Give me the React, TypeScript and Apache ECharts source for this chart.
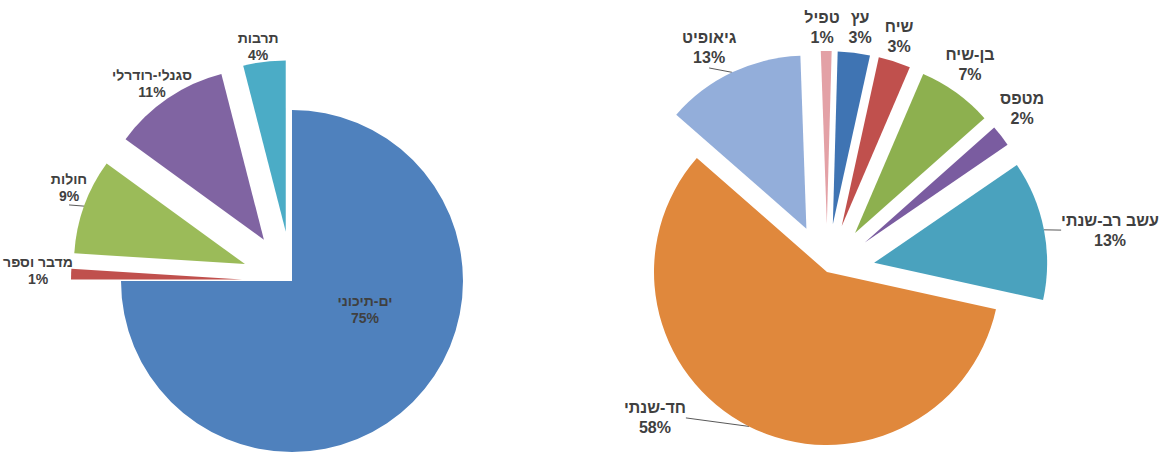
import React, { useEffect, useRef } from "react";
import * as echarts from "echarts";

// Left pie: vegetation regions
const leftNames = ["ים-תיכוני", "מדבר וספר", "חולות", "סגנלי-רודרלי", "תרבות"];
const leftValues = [75, 1, 9, 11, 4];
const leftColors = ["#4F81BD", "#C0504D", "#9BBB59", "#8064A2", "#4BACC6"];
const leftExploded = [false, true, true, true, true];
const leftLeaders = [false, false, true, false, false];
// label placement: angular shift (deg) from slice mid-angle, distance beyond the rim (px)
const leftLabelShift = [-24, 0.6, 3.6, -1.35, -1.3];
const leftLabelDist = [-92.8, 33.2, 20.7, 21.5, 15.5];

// Right pie: life forms
const rightNames = ["טפיל", "עץ", "שיח", "בן-שיח", "מטפס", "עשב רב-שנתי", "חד-שנתי", "גיאופיט"];
const rightValues = [1, 3, 3, 7, 2, 13, 58, 13];
const rightColors = ["#E3A1A6", "#3F74B3", "#C0504D", "#8DB04F", "#7A5CA0", "#4AA2BE", "#E0883C", "#93AEDA"];
const rightExploded = [true, true, true, true, true, true, false, true];
const rightLeaders = [false, false, false, false, false, true, true, true];
const rightLabelShift = [-1.2, 0.9, -1.0, -1.45, -2.5, 3.1, 22.9, -2.9];
const rightLabelDist = [23.1, 25.3, 25.7, 30.6, 33.8, 65.2, 52.6, 32.2];

type PieCfg = {
  cx: number;
  cy: number;
  r: number;
  offset: number;
  startClock: number;
  names: string[];
  values: number[];
  colors: string[];
  exploded: boolean[];
  leaders: boolean[];
  shift: number[];
  dist: number[];
  fontSize: number;
  lineHeight: number;
  insideIdx: number;
};

const rad = (a: number) => (a * Math.PI) / 180;

const midAngles = (values: number[], startClock: number) => {
  const total = values.reduce((a, b) => a + b, 0);
  const mids: number[] = [];
  let acc = startClock;
  values.forEach((v) => {
    const span = (v / total) * 360;
    mids.push(acc + span / 2);
    acc += span;
  });
  return mids;
};

const lineStyle = { color: "#595959", width: 1 };

// One series per slice so each exploded slice is drawn at its own offset centre.
const buildSeries = (c: PieCfg) => {
  const mids = midAngles(c.values, c.startClock);
  return c.names.map((_, k) => {
    const m = rad(mids[k]);
    const off = c.exploded[k] ? c.offset : 0;
    const ex = c.cx + Math.sin(m) * off;
    const ey = c.cy - Math.cos(m) * off;
    return {
      type: "pie",
      center: [ex, ey],
      radius: c.r,
      startAngle: 90 - c.startClock,
      clockwise: true,
      silent: true,
      avoidLabelOverlap: false,
      label: {
        show: true,
        position: k === c.insideIdx ? "inside" : "outside",
        formatter: (p: any) => `${p.name}\n${Math.round(p.percent)}%`,
        color: "#404040",
        fontFamily: "Liberation Sans, Arial, sans-serif",
        fontWeight: "bold",
        fontSize: c.fontSize,
        lineHeight: c.lineHeight,
      },
      labelLine: { show: c.leaders[k], length: 10, length2: 0, lineStyle },
      labelLayout: (p: any) => {
        if (p.dataIndex !== k) return {};
        const a = rad(mids[k] + c.shift[k]);
        const R = c.r + c.dist[k];
        return {
          x: ex + Math.sin(a) * R,
          y: ey - Math.cos(a) * R,
          align: "center",
          verticalAlign: "middle",
          hideOverlap: false,
        };
      },
      data: c.names.map((name, i) => ({
        name,
        value: c.values[i],
        itemStyle: { color: i === k ? c.colors[i] : "rgba(0,0,0,0)" },
        label: { show: i === k },
        labelLine: { show: i === k && c.leaders[i] },
      })),
    };
  });
};

const leftCfg: PieCfg = {
  cx: 292, cy: 281, r: 171, offset: 50, startClock: 0,
  names: leftNames, values: leftValues, colors: leftColors,
  exploded: leftExploded, leaders: leftLeaders,
  shift: leftLabelShift, dist: leftLabelDist,
  fontSize: 14, lineHeight: 17, insideIdx: 0,
};
const rightCfg: PieCfg = {
  cx: 827, cy: 272, r: 173, offset: 48, startClock: -2,
  names: rightNames, values: rightValues, colors: rightColors,
  exploded: rightExploded, leaders: rightLeaders,
  shift: rightLabelShift, dist: rightLabelDist,
  fontSize: 16, lineHeight: 20, insideIdx: -1,
};

export default function App() {
  const ref = useRef<HTMLDivElement>(null);
  useEffect(() => {
    document.body.style.margin = "0";
    const chart = echarts.init(ref.current!, undefined, { renderer: "svg" });
    chart.setOption({
      animation: false,
      backgroundColor: "#ffffff",
      series: [...buildSeries(leftCfg), ...buildSeries(rightCfg)],
    });
    return () => chart.dispose();
  }, []);
  return <div ref={ref} style={{ width: 1172, height: 452 }} />;
}
